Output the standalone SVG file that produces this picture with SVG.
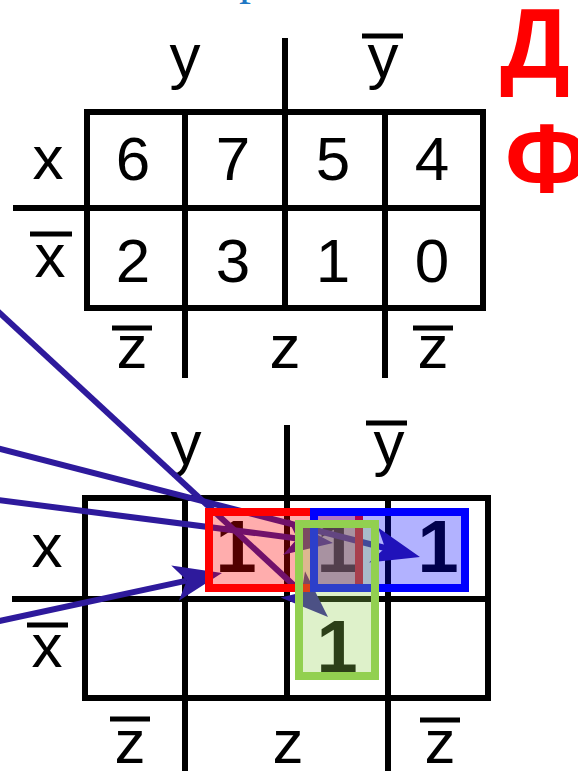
<svg xmlns="http://www.w3.org/2000/svg" width="578" height="771" viewBox="0 0 578 771">
<defs>
<style>
.g{stroke:#000;stroke-width:6;fill:none}
.bar{stroke:#000;stroke-width:5}
.lbl{font-family:"Liberation Sans",Arial,sans-serif;font-size:62px;fill:#000;text-anchor:middle}
.one{font-family:"Liberation Sans",Arial,sans-serif;font-weight:bold;font-size:74px;fill:#000;text-anchor:middle}
.ttl{font-family:"Liberation Sans",Arial,sans-serif;font-weight:bold;font-size:98px;fill:#FF0000}
.arr{stroke:#2E1A9C;stroke-width:6;fill:none;marker-end:url(#ah)}
</style>
<marker id="ah" markerUnits="userSpaceOnUse" markerWidth="1" markerHeight="1" refX="0" refY="0" orient="auto" overflow="visible">
<path d="M36,0 L-12,-18 L0,0 L-12,18 Z" fill="#2E1A9C"/>
</marker>
</defs>
<rect width="578" height="771" fill="#fff"/>
<text x="239" y="-6.5" font-family="'Liberation Serif',serif" font-size="48" fill="#1F77C4">р</text>
<g id="title">
<text class="ttl" x="500" y="77">Д</text>
<text class="ttl" x="505" y="192">Ф</text>
</g>
<g id="map-top">
<rect class="g" x="87" y="112" width="396" height="196"/>
<line class="g" x1="185" y1="112" x2="185" y2="378"/>
<line class="g" x1="285" y1="38" x2="285" y2="308"/>
<line class="g" x1="385" y1="112" x2="385" y2="378"/>
<line class="g" x1="13" y1="208" x2="483" y2="208"/>
<text class="lbl" x="185" y="77">y</text>
<text class="lbl" x="383" y="77">y</text><line class="bar" x1="362" y1="36" x2="403" y2="36"/>
<text class="lbl" x="48" y="179">x</text>
<text class="lbl" x="50" y="277">x</text><line class="bar" x1="30" y1="234" x2="72" y2="234"/>
<text class="lbl" x="132" y="368">z</text><line class="bar" x1="112" y1="328" x2="152" y2="328"/>
<text class="lbl" x="285" y="368">z</text>
<text class="lbl" x="433" y="368">z</text><line class="bar" x1="413" y1="328" x2="453" y2="328"/>
<text class="lbl" x="133" y="180">6</text>
<text class="lbl" x="233" y="180">7</text>
<text class="lbl" x="333" y="180">5</text>
<text class="lbl" x="432" y="180">4</text>
<text class="lbl" x="133" y="282">2</text>
<text class="lbl" x="233" y="282">3</text>
<text class="lbl" x="333" y="282">1</text>
<text class="lbl" x="432" y="282">0</text>
</g>
<g id="map-bottom">
<rect class="g" x="85" y="498" width="403" height="200"/>
<line class="g" x1="185" y1="498" x2="185" y2="775"/>
<line class="g" x1="287" y1="425" x2="287" y2="698"/>
<line class="g" x1="388" y1="498" x2="388" y2="775"/>
<line class="g" x1="12" y1="599" x2="488" y2="599"/>
<text class="lbl" x="186" y="464">y</text>
<text class="lbl" x="389" y="464">y</text><line class="bar" x1="366" y1="423" x2="407" y2="423"/>
<text class="lbl" x="47" y="567">x</text>
<text class="lbl" x="47" y="667">x</text><line class="bar" x1="27" y1="625" x2="68" y2="625"/>
<text class="lbl" x="130" y="763">z</text><line class="bar" x1="110" y1="719" x2="150" y2="719"/>
<text class="lbl" x="288" y="763">z</text>
<text class="lbl" x="440" y="763">z</text><line class="bar" x1="420" y1="720" x2="460" y2="720"/>
<text class="one" x="236" y="572">1</text>
<text class="one" x="337" y="572">1</text>
<text class="one" x="438" y="572">1</text>
<text class="one" x="337" y="672">1</text>
</g>
<g id="connectors">
<line class="arr" x1="-10" y1="304" x2="301.6" y2="592.5"/>
<line class="arr" x1="-10" y1="446.4" x2="385.1" y2="548"/>
<line class="arr" x1="-10" y1="499" x2="297.3" y2="538.4"/>
<line class="arr" x1="-10" y1="623" x2="186.8" y2="580.6"/>
</g>
<g id="group-red"><rect x="209" y="512" width="150" height="76" fill="#FF0000" fill-opacity="0.32" stroke="#FF0000" stroke-width="8"/></g>
<g id="group-blue"><rect x="314" y="512" width="151" height="76" fill="#0000FF" fill-opacity="0.3" stroke="#0000FF" stroke-width="8"/></g>
<g id="group-green"><rect x="299" y="524" width="76" height="152" fill="#92D050" fill-opacity="0.3" stroke="#92D050" stroke-width="8"/></g>
</svg>
